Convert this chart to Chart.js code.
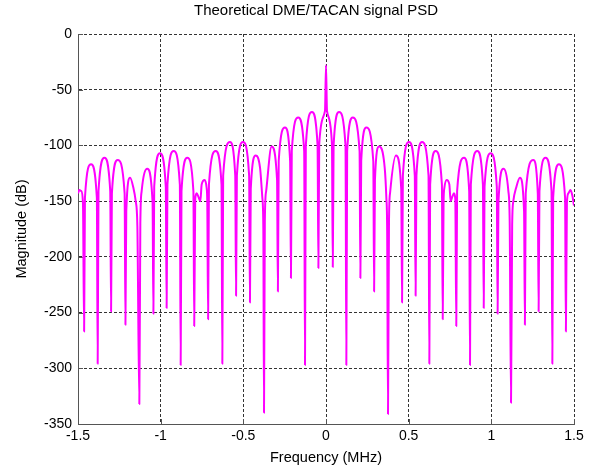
<!DOCTYPE html>
<html>
<head>
<meta charset="utf-8">
<title>Theoretical DME/TACAN signal PSD</title>
<script src="https://cdn.jsdelivr.net/npm/chart.js@4.4.1/dist/chart.umd.min.js"></script>
<style>
  html, body { margin: 0; padding: 0; background: #fff; }
  #wrap { width: 601px; height: 471px; }
</style>
</head>
<body>
<div id="wrap"><canvas id="psd" width="601" height="471"></canvas></div>
<script>
// titles
const chartTitle = 'Theoretical DME/TACAN signal PSD';
const xLabel = 'Frequency (MHz)';
const yLabel = 'Magnitude (dB)';

// tick labels
const xTicks = [-1.5, -1, -0.5, 0, 0.5, 1, 1.5];
const yTicks = [0, -50, -100, -150, -200, -250, -300, -350];

// PSD curve (MHz, dB): lobe tops, lobe edges and null depths
const freqMHz = [
  -1.500, -1.492, -1.480, -1.470, -1.463, -1.458, -1.421, -1.386, -1.381, -1.376,
  -1.340, -1.305, -1.300, -1.295, -1.260, -1.218, -1.213, -1.208, -1.185, -1.165,
  -1.151, -1.141, -1.129, -1.123, -1.115, -1.081, -1.049, -1.044, -1.039, -1.004,
  -0.969, -0.964, -0.959, -0.921, -0.884, -0.879, -0.874, -0.839, -0.802, -0.797,
  -0.791, -0.782, -0.772, -0.760, -0.752, -0.734, -0.722, -0.718, -0.713, -0.708,
  -0.667, -0.632, -0.627, -0.622, -0.581, -0.549, -0.544, -0.539, -0.502, -0.465,
  -0.460, -0.455, -0.425, -0.399, -0.385, -0.379, -0.375, -0.370, -0.362, -0.329,
  -0.296, -0.291, -0.286, -0.248, -0.217, -0.212, -0.207, -0.168, -0.132, -0.127,
  -0.122, -0.085, -0.051, -0.046, -0.041, -0.006, 0.000, 0.006, 0.036, 0.041,
  0.046, 0.079, 0.118, 0.123, 0.128, 0.162, 0.203, 0.208, 0.213, 0.244,
  0.286, 0.291, 0.296, 0.321, 0.355, 0.365, 0.370, 0.375, 0.381, 0.388,
  0.423, 0.455, 0.460, 0.465, 0.502, 0.537, 0.542, 0.547, 0.581, 0.620,
  0.625, 0.630, 0.663, 0.701, 0.706, 0.711, 0.716, 0.730, 0.746, 0.754,
  0.764, 0.774, 0.782, 0.788, 0.793, 0.835, 0.866, 0.871, 0.876, 0.915,
  0.949, 0.954, 0.959, 0.996, 1.033, 1.038, 1.043, 1.073, 1.103, 1.111,
  1.119, 1.126, 1.133, 1.150, 1.173, 1.198, 1.203, 1.208, 1.254, 1.281,
  1.286, 1.291, 1.328, 1.364, 1.369, 1.374, 1.409, 1.446, 1.451, 1.457,
  1.466, 1.479, 1.490, 1.500
];
const magnitudeDb = [
  -143, -140, -141, -152, -267, -147, -117, -147, -296, -141,
  -111, -141, -249, -143, -113, -143, -261, -159, -129, -138,
  -150, -172, -332, -170, -141, -121, -151, -251, -137, -107,
  -137, -246, -135, -105, -135, -297, -141, -111, -141, -262,
  -148, -143, -146, -150, -135, -131, -138, -152, -256, -135,
  -105, -135, -296, -127, -97, -127, -235, -127, -97, -127,
  -241, -139, -109, -120, -147, -175, -340, -168, -141, -101,
  -131, -231, -114, -84, -114, -219, -105, -75, -105, -297,
  -100, -70, -100, -210, -99, -69, -28, -69, -99, -209,
  -100, -70, -100, -297, -105, -75, -105, -219, -114, -84,
  -114, -231, -131, -101, -120, -147, -177, -341, -168, -142,
  -109, -139, -241, -127, -97, -127, -235, -127, -97, -127,
  -296, -135, -105, -135, -256, -152, -138, -131, -135, -150,
  -146, -143, -148, -262, -141, -111, -141, -297, -135, -105,
  -135, -246, -137, -107, -137, -251, -151, -121, -141, -168,
  -331, -171, -150, -138, -129, -159, -261, -143, -113, -143,
  -249, -141, -111, -141, -296, -147, -117, -147, -267, -152,
  -143, -140, -145, -154
];

const fontFamily = '"Liberation Sans", Arial, Helvetica, sans-serif';
Chart.defaults.font.family = fontFamily;
Chart.defaults.color = '#000';

// title centred the way the original figure places it
const plotTitle = {
  id: 'plotTitle',
  afterDraw(chart) {
    const c = chart.ctx;
    c.save();
    c.font = '15px ' + fontFamily;
    c.fillStyle = '#000';
    c.textAlign = 'center';
    c.textBaseline = 'middle';
    c.fillText(chartTitle, 316, 11);
    c.restore();
  }
};

// MATLAB style tick marks pointing into the axes
const innerTicks = {
  id: 'innerTicks',
  beforeDatasetsDraw(chart) {
    const c = chart.ctx;
    const area = chart.chartArea;
    const xs = chart.scales.x, ys = chart.scales.y;
    c.save();
    c.strokeStyle = '#555';
    c.lineWidth = 1;
    c.beginPath();
    xTicks.forEach(v => {
      const px = Math.round(xs.getPixelForValue(v)) + 0.5;
      c.moveTo(px, area.bottom);
      c.lineTo(px, area.bottom - 5);
    });
    yTicks.forEach(v => {
      const py = Math.round(ys.getPixelForValue(v)) + 0.5;
      c.moveTo(area.left, py);
      c.lineTo(area.left + 5, py);
    });
    c.stroke();
    c.restore();
  }
};

const points = freqMHz.map((f, i) => ({ x: f, y: magnitudeDb[i] }));

new Chart(document.getElementById('psd'), {
  type: 'line',
  data: {
    datasets: [{
      data: points,
      borderColor: '#ff00ff',
      borderWidth: 2,
      pointRadius: 0,
      fill: false,
      cubicInterpolationMode: 'monotone',
      borderJoinStyle: 'round'
    }]
  },
  options: {
    responsive: false,
    animation: false,
    devicePixelRatio: 1,
    layout: { padding: { left: 0, right: 27, top: 34, bottom: 0 } },
    plugins: {
      legend: { display: false },
      tooltip: { enabled: false },
      title: { display: false }
    },
    scales: {
      x: {
        type: 'linear',
        min: -1.5,
        max: 1.5,
        afterBuildTicks: (scale) => { scale.ticks = xTicks.map(v => ({ value: v })); },
        afterFit: (scale) => { scale.height = 47; },
        ticks: { font: { size: 14 }, padding: 4, maxRotation: 0, autoSkip: false, callback: (v) => String(v) },
        grid: { color: '#333', lineWidth: 1, drawTicks: false },
        border: { display: true, color: '#555', width: 1, dash: [3, 2] },
        title: { display: true, text: xLabel, font: { size: 14.5 }, padding: { top: 0, bottom: 4 } }
      },
      y: {
        type: 'linear',
        min: -350,
        max: 0,
        afterBuildTicks: (scale) => { scale.ticks = yTicks.map(v => ({ value: v })); },
        afterFit: (scale) => { scale.width = 78; },
        ticks: { font: { size: 14 }, padding: 6, autoSkip: false, callback: (v) => String(v) },
        grid: { color: '#333', lineWidth: 1, drawTicks: false },
        border: { display: true, color: '#555', width: 1, dash: [3, 2] },
        title: { display: true, text: yLabel, font: { size: 14.5 }, padding: { top: 13, bottom: 0 } }
      }
    }
  },
  plugins: [innerTicks, plotTitle]
});
</script>
</body>
</html>
